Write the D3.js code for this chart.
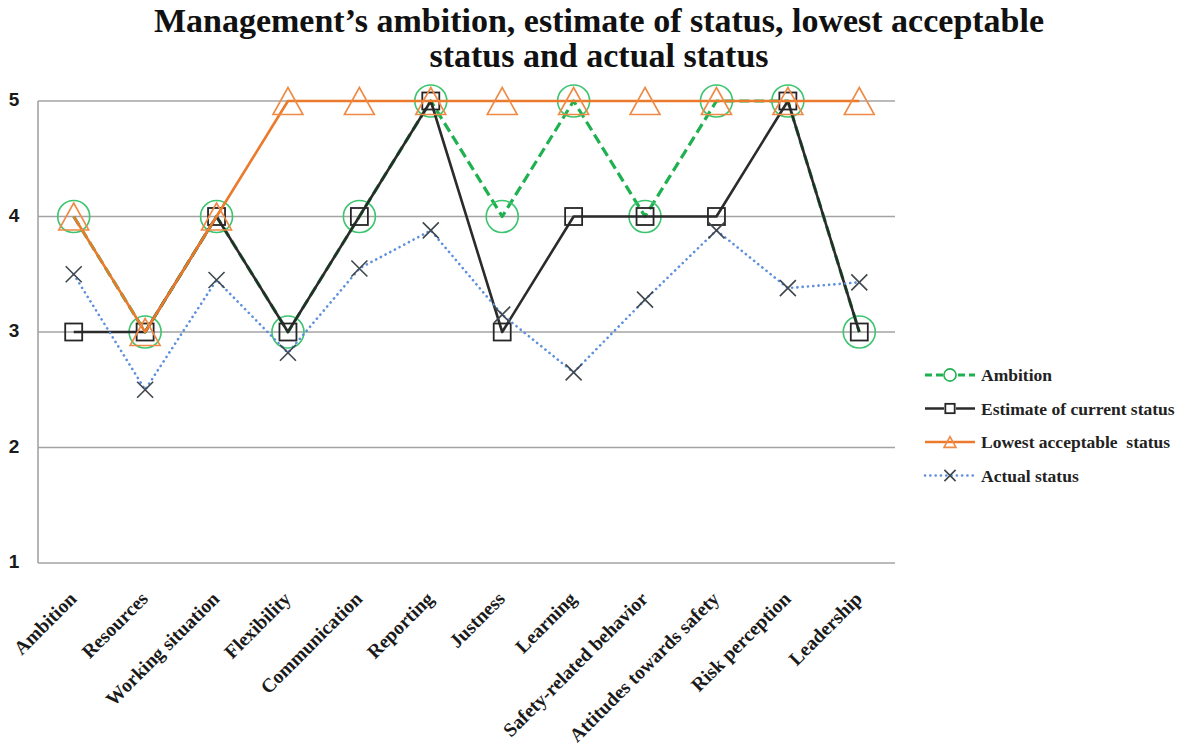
<!DOCTYPE html>
<html>
<head>
<meta charset="utf-8">
<script src="https://cdn.jsdelivr.net/npm/d3@7"></script>
<style>
    body { margin: 0; background: #fff; }
    svg { display: block; }
</style>
</head>
<body>
<script>
//chart data
var categories = ["Ambition", "Resources", "Working situation", "Flexibility", "Communication",
    "Reporting", "Justness", "Learning", "Safety-related behavior", "Attitudes towards safety",
    "Risk perception", "Leadership"];
var ambition = [4, 3, 4, 3, 4, 5, 4, 5, 4, 5, 5, 3];
var estimate = [3, 3, 4, 3, 4, 5, 3, 4, 4, 4, 5, 3];
var lowest = [4, 3, 4, 5, 5, 5, 5, 5, 5, 5, 5, 5];
var actual = [3.5, 2.5, 3.45, 2.82, 3.55, 3.88, 3.15, 2.65, 3.28, 3.88, 3.38, 3.43];
var yTicks = [1, 2, 3, 4, 5];
var titleLines = ["Management\u2019s ambition, estimate of status, lowest acceptable", "status and actual status"];
var legendNames = ["Ambition", "Estimate of current status", "Lowest acceptable  status", "Actual status"];

window.onload = drawChart();

function drawChart(){
    var width = 1188,
        height = 745;

    var svg = d3.select("body")
        .append("svg")
        .attr("width", width)
        .attr("height", height);

    //plot area
    var x = d3.scalePoint()
        .domain(categories)
        .range([38, 895])
        .padding(0.5);

    var y = d3.scaleLinear()
        .domain([1, 5])
        .range([563, 101]);

    //title
    svg.append("g")
        .selectAll("text")
        .data(titleLines)
        .enter()
        .append("text")
        .attr("x", 599)
        .attr("y", function(d, i){ return 32 + i * 35; })
        .attr("text-anchor", "middle")
        .style("font-family", "'Liberation Serif', serif")
        .style("font-weight", "bold")
        .style("font-size", "34px")
        .style("fill", "#111")
        .text(function(d){ return d; });

    //horizontal gridlines
    svg.append("g")
        .selectAll("line")
        .data(yTicks)
        .enter()
        .append("line")
        .attr("x1", 38)
        .attr("x2", 895)
        .attr("y1", function(d){ return y(d); })
        .attr("y2", function(d){ return y(d); })
        .style("stroke", "#a3a3a3")
        .style("stroke-width", 1.6);

    //vertical axis line
    svg.append("line")
        .attr("x1", 38).attr("x2", 38)
        .attr("y1", y(5)).attr("y2", y(1))
        .style("stroke", "#a3a3a3")
        .style("stroke-width", 1.6);

    //y tick labels
    svg.append("g")
        .selectAll("text")
        .data(yTicks)
        .enter()
        .append("text")
        .attr("x", 14)
        .attr("y", function(d){ return y(d) + 5; })
        .attr("text-anchor", "middle")
        .style("font-family", "'Liberation Sans', sans-serif")
        .style("font-weight", "bold")
        .style("font-size", "19px")
        .style("fill", "#1a1a1a")
        .text(function(d){ return d; });

    //x category labels, rotated
    svg.append("g")
        .selectAll("text")
        .data(categories)
        .enter()
        .append("text")
        .attr("transform", function(d){
            return "translate(" + (x(d) + 4) + ",600) rotate(-45)";
        })
        .attr("text-anchor", "end")
        .style("font-family", "'Liberation Serif', serif")
        .style("font-weight", "bold")
        .style("font-size", "19.5px")
        .style("fill", "#1a1a1a")
        .text(function(d){ return d; });

    //series definitions
    var series = [
        {name: legendNames[0], values: ambition, color: "#1fb050", markColor: "#3cc46e", width: 3.2, dash: "10,5", cap: "butt", marker: "circle"},
        {name: legendNames[1], values: estimate, color: "#2b2b2b", markColor: "#262626", width: 2.6, dash: null, cap: "butt", marker: "square"},
        {name: legendNames[2], values: lowest, color: "#ec7a2c", markColor: "#ee8a45", width: 2.6, dash: null, cap: "butt", marker: "triangle"},
        {name: legendNames[3], values: actual, color: "#5d8fdc", markColor: "#3f474d", width: 2.6, dash: "0.1,5.2", cap: "round", marker: "cross"}
    ];

    var line = d3.line()
        .x(function(d, i){ return x(categories[i]); })
        .y(function(d){ return y(d); });

    function drawMarker(g, type, cx, cy, scale, color){
        if (type == "circle"){
            g.append("circle")
                .attr("cx", cx).attr("cy", cy).attr("r", 16 * scale)
                .style("fill", "none").style("stroke", color).style("stroke-width", 1.6);
        } else if (type == "square"){
            var s = 17 * scale;
            g.append("rect")
                .attr("x", cx - s / 2).attr("y", cy - s / 2)
                .attr("width", s).attr("height", s)
                .style("fill", "none").style("stroke", color).style("stroke-width", 1.8);
        } else if (type == "triangle"){
            var w = 15 * scale, h = 13.5 * scale;
            g.append("path")
                .attr("d", "M" + cx + "," + (cy - h) + "L" + (cx + w) + "," + (cy + h) + "L" + (cx - w) + "," + (cy + h) + "Z")
                .style("fill", "none").style("stroke", color).style("stroke-width", 1.6);
        } else {
            var r = 8 * scale;
            g.append("path")
                .attr("d", "M" + (cx - r) + "," + (cy - r) + "L" + (cx + r) + "," + (cy + r) +
                    "M" + (cx + r) + "," + (cy - r) + "L" + (cx - r) + "," + (cy + r))
                .style("fill", "none").style("stroke", color).style("stroke-width", 1.6);
        }
    }

    series.forEach(function(s){
        var g = svg.append("g").attr("class", "series");
        g.append("path")
            .datum(s.values)
            .attr("d", line)
            .style("fill", "none")
            .style("stroke", s.color)
            .style("stroke-width", s.width)
            .style("stroke-dasharray", s.dash)
            .style("stroke-linecap", s.cap)
            .style("stroke-linejoin", "round");
        s.values.forEach(function(v, i){
            drawMarker(g, s.marker, x(categories[i]), y(v), 1, s.markColor);
        });
    });

    //legend
    var legend = svg.append("g")
        .selectAll("g")
        .data(series)
        .enter()
        .append("g")
        .attr("transform", function(d, i){
            return "translate(925," + (375 + i * 33.5) + ")";
        });

    legend.append("line")
        .attr("x1", 0).attr("x2", 50)
        .attr("y1", 0).attr("y2", 0)
        .style("stroke", function(d){ return d.color; })
        .style("stroke-width", function(d){ return d.width; })
        .style("stroke-dasharray", function(d){ return d.dash ? (d.marker == "circle" ? "7,4" : d.dash) : null; })
        .style("stroke-linecap", function(d){ return d.cap; });

    legend.each(function(d){
        var sc = {circle: 0.38, square: 0.55, triangle: 0.4, cross: 0.7}[d.marker];
        var g = d3.select(this);
        if (d.marker != "cross"){
            //white backing so the line does not show through the small marker
            g.append("rect").attr("x", 25 - 6).attr("y", -5).attr("width", 12).attr("height", 10)
                .style("fill", d.marker == "triangle" ? "none" : "#fff");
        }
        drawMarker(g, d.marker, 25, 0, sc, d.marker == "circle" ? d.color : d.markColor);
    });

    legend.append("text")
        .attr("x", 56)
        .attr("y", 6)
        .style("white-space", "pre")
        .style("font-family", "'Liberation Serif', serif")
        .style("font-weight", "bold")
        .style("font-size", "17.5px")
        .style("fill", "#222")
        .text(function(d){ return d.name; });
};
</script>
</body>
</html>
